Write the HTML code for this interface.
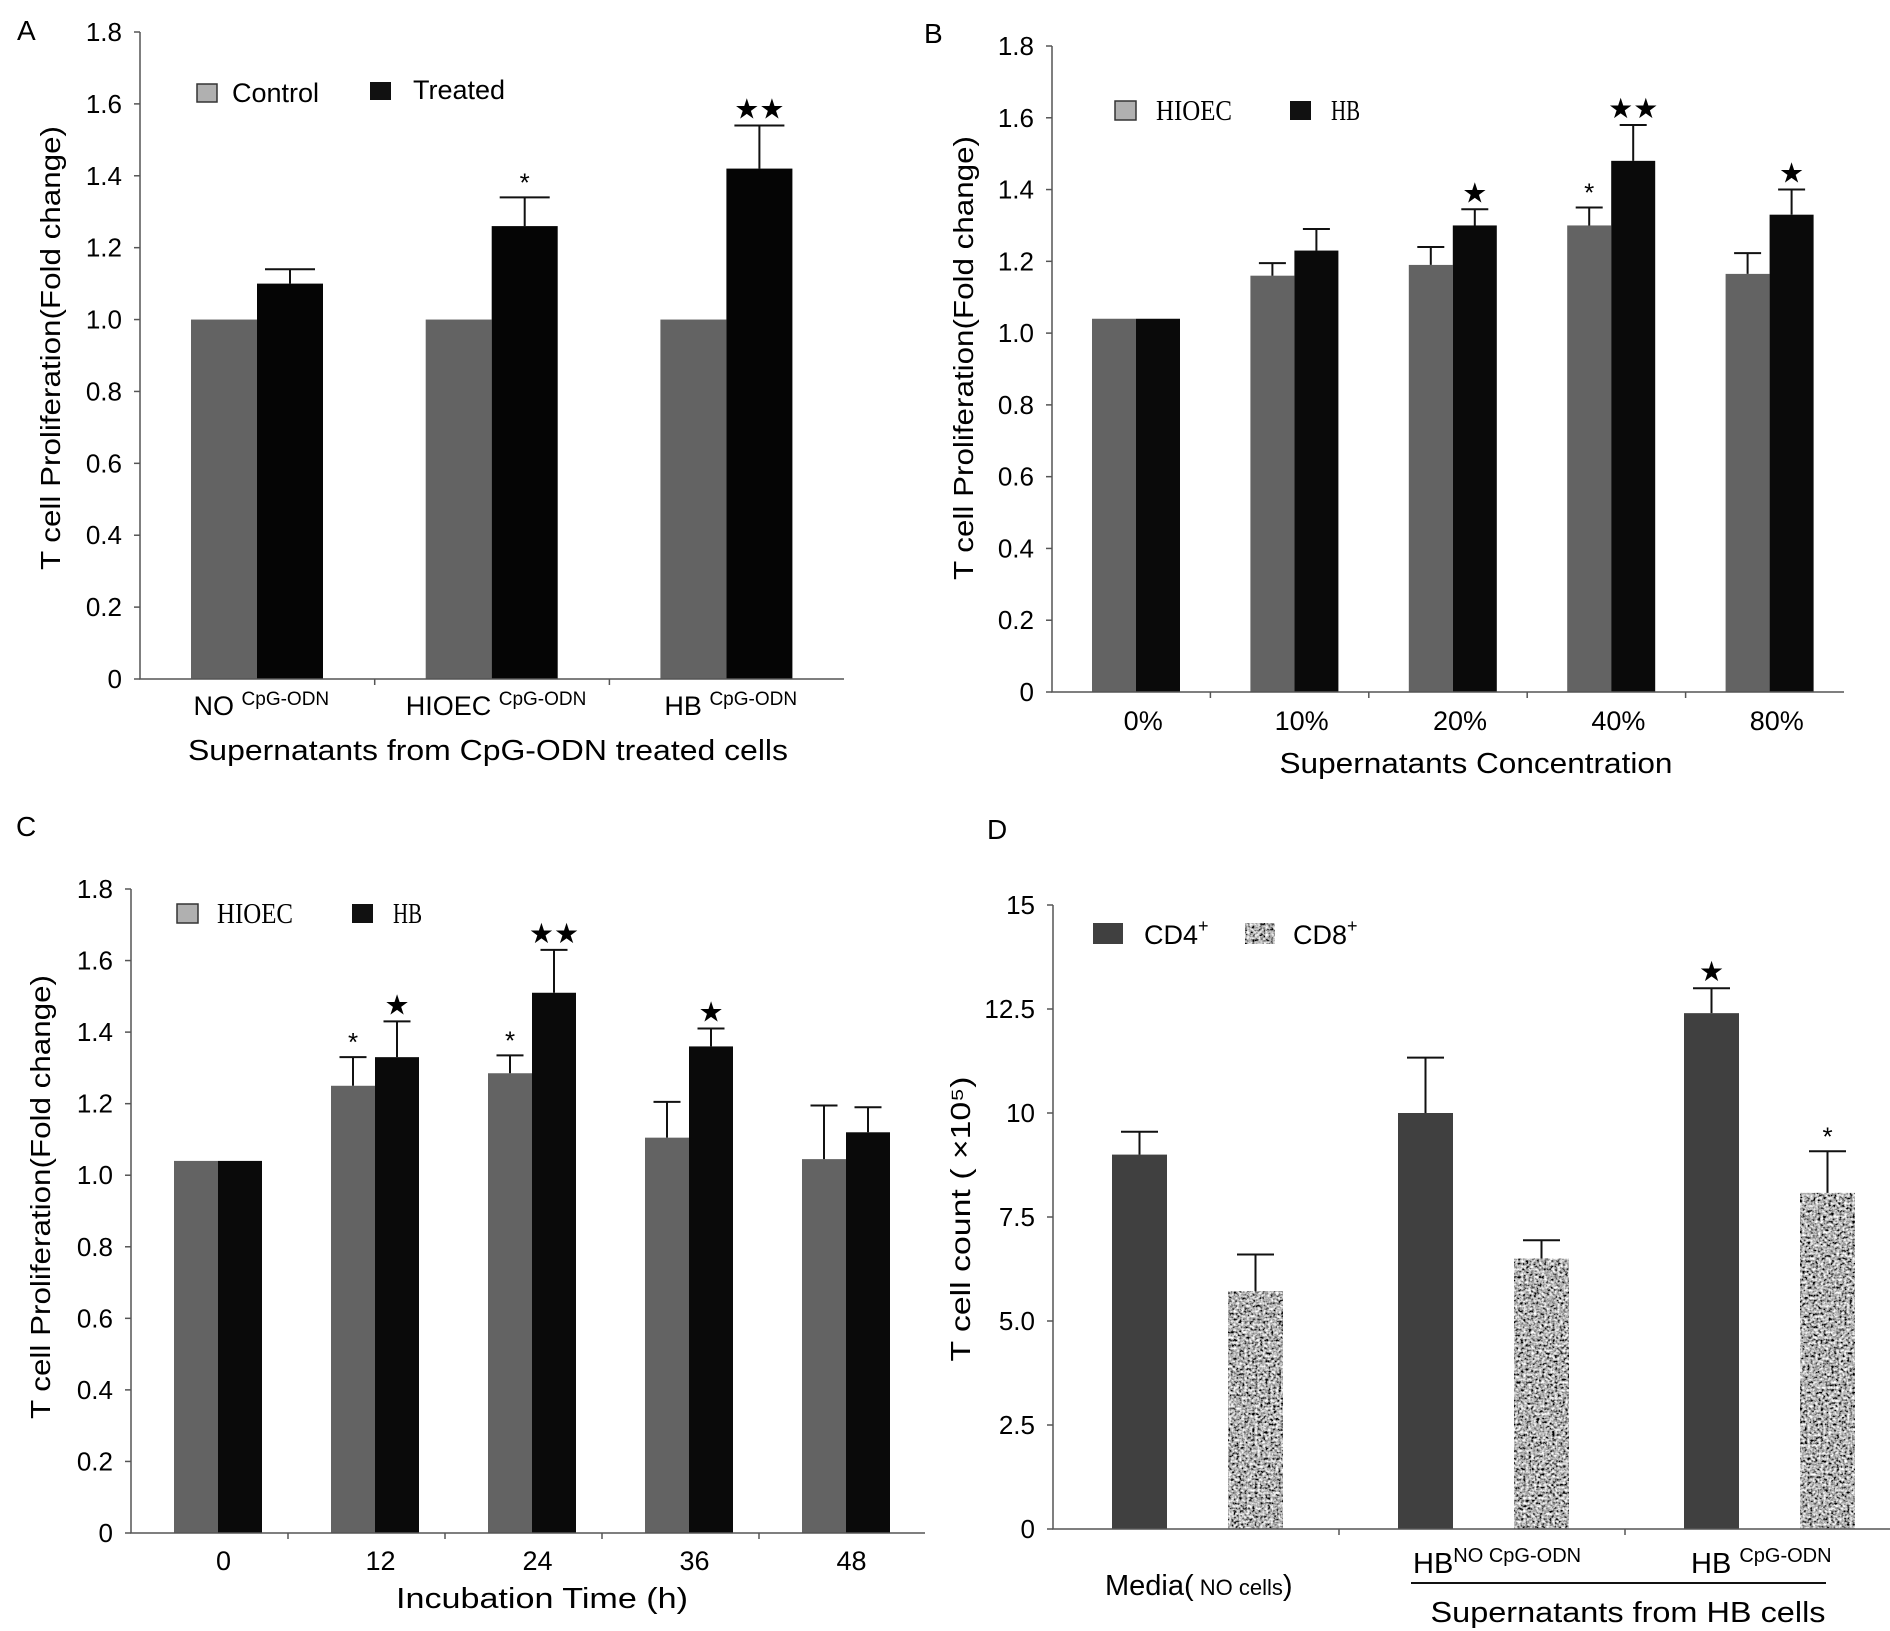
<!DOCTYPE html>
<html><head><meta charset="utf-8"><style>
html,body{margin:0;padding:0;background:#fff;}
svg{display:block;font-family:"Liberation Sans",sans-serif;}
</style></head><body>
<svg id="fig" width="1890" height="1631" viewBox="0 0 1890 1631" xmlns="http://www.w3.org/2000/svg">
<defs>
<filter id="speckle" x="0" y="0" width="100%" height="100%">
<feTurbulence type="fractalNoise" baseFrequency="0.38" numOctaves="2" seed="3" result="n"/>
<feColorMatrix in="n" type="saturate" values="0" result="g"/>
<feComponentTransfer in="g" result="c"><feFuncR type="linear" slope="2.8" intercept="-0.95"/><feFuncG type="linear" slope="2.8" intercept="-0.95"/><feFuncB type="linear" slope="2.8" intercept="-0.95"/><feFuncA type="linear" slope="0" intercept="1"/></feComponentTransfer>
<feComposite in="c" in2="SourceGraphic" operator="in"/>
</filter>
</defs>
<text x="17" y="40" font-size="28">A</text>
<text x="924" y="43" font-size="28">B</text>
<text x="16" y="836" font-size="28">C</text>
<text x="987" y="839" font-size="28">D</text>
</svg>
<script>
// Panel A data
const aCats = ["NO", "HIOEC", "HB"];
const aControl = [1.0, 1.0, 1.0];
const aTreated = [1.10, 1.26, 1.42];
const aTreatedErr = [0.04, 0.08, 0.12];
const aTicks = ["0","0.2","0.4","0.6","0.8","1.0","1.2","1.4","1.6","1.8"];
const aMarks = ["", "*", "★★"];
// Panel B data
const bCats = ["0%","10%","20%","40%","80%"];
const bHIOEC = [1.04, 1.16, 1.19, 1.30, 1.165];
const bHIOECErr = [0, 0.035, 0.05, 0.05, 0.058];
const bHB = [1.04, 1.23, 1.30, 1.48, 1.33];
const bHBErr = [0, 0.06, 0.045, 0.10, 0.07];
const bMarksH = ["", "", "", "*", ""];
const bMarksB = ["", "", "★", "★★", "★"];
// Panel C data
const cCats = ["0","12","24","36","48"];
const cHIOEC = [1.04, 1.25, 1.285, 1.105, 1.045];
const cHIOECErr = [0, 0.08, 0.05, 0.10, 0.15];
const cHB = [1.04, 1.33, 1.51, 1.36, 1.12];
const cHBErr = [0, 0.10, 0.12, 0.05, 0.07];
const cMarksH = ["", "*", "*", "", ""];
const cMarksB = ["", "★", "★★", "★", ""];
// Panel D data
const dCats = ["Media", "HB NO CpG-ODN", "HB CpG-ODN"];
const dCD4 = [9.0, 10.0, 12.4];
const dCD4Err = [0.55, 1.33, 0.6];
const dCD8 = [5.72, 6.5, 8.08];
const dCD8Err = [0.88, 0.44, 1.0];
const dTicks = ["0","2.5","5.0","7.5","10","12.5","15"];
const dMarks4 = ["", "", "★"];
const dMarks8 = ["", "", "*"];

const svg = document.getElementById('fig');
const NS = "http://www.w3.org/2000/svg";
function el(tag, attrs, parent){
  const e = document.createElementNS(NS, tag);
  for (const k in attrs) e.setAttribute(k, attrs[k]);
  (parent||svg).appendChild(e);
  return e;
}
function txt(x,y,s,size,anchor,extra){
  const t = el('text',{x:x,y:y,'font-size':size,'text-anchor':anchor||'start'});
  if(extra) for(const k in extra) t.setAttribute(k, extra[k]);
  t.textContent = s;
  return t;
}

function panel(P){
  const g = el('g',{});
  
  
  const y = v => P.y0 - v / P.max * (P.y0 - P.yTop);
  const catX = i => P.x0 + i * P.cw;
  P.series.forEach((s, si) => {
    s.vals.forEach((v, i) => {
      const bx = catX(i) + s.off;
      const r = el('rect',{x:bx,y:y(v),width:P.bw,height:P.y0 - y(v),fill:s.color},g);
      if (s.speckle) r.setAttribute('filter','url(#speckle)');
      
      
      const e = s.err ? s.err[i] : 0;
      const cx = bx + P.bw/2;
      if (e > 0) {
        const l = el('path',{d:`M${cx} ${y(v)}V${y(v+e)}M${cx-P.cap/2} ${y(v+e)}H${cx+P.cap/2}`,stroke:'#111','stroke-width':2,fill:'none'},g);
        
        
      }
      const m = s.marks ? s.marks[i] : "";
      if (m) {
        const isStar = m.indexOf('★') >= 0;
        const t = txt(cx, y(v+e) - (isStar?7:6), m, isStar?28:26, 'middle', isStar?{'font-family':'DejaVu Sans, sans-serif'}:{});
        g.appendChild(t);
        
        
      }
    });
  });
  const ax = el('path',{d:`M${P.x0} ${P.yTop}V${P.y0}H${P.xEnd}`,stroke:'#555','stroke-width':1.5,fill:'none'},g);
  
  
  P.ticks.forEach((lab, i) => {
    const v = P.tickStep * i;
    el('line',{x1:P.x0-6,x2:P.x0,y1:y(v),y2:y(v),stroke:'#555','stroke-width':1.5},g);
    const t = txt(P.x0 - 18, y(v) + 9, lab, 26, 'end');
    g.appendChild(t);
    
    
  });
  for (let i = 1; i < P.ncat; i++) {
    el('line',{x1:catX(i),x2:catX(i),y1:P.y0,y2:P.y0+6,stroke:'#555','stroke-width':1.5},g);
  }
  const yt = txt(0, 0, P.ytitle, 28, 'middle', {transform:`translate(${P.ytx},${P.yty}) rotate(-90)`, textLength:P.ytlen, lengthAdjust:'spacingAndGlyphs'});
  g.appendChild(yt);
  
  
  return {g, y, catX};
}

// Panel A
{
  const P = {name:'chart-a', x0:140, xEnd:844, y0:679, yTop:32, max:1.8, tickStep:0.2, ticks:aTicks, ncat:3, cw:234.7, bw:66, cap:50,
    ytitle:'T cell Proliferation(Fold change)', ytx:60, yty:348, ytlen:444,
    series:[{key:'control',vals:aControl,color:'#636363',off:51},
            {key:'treated',vals:aTreated,err:aTreatedErr,marks:aMarks,color:'#050505',off:117}]};
  const {g, catX} = panel(P);
  aCats.forEach((c,i)=>{
    const t = el('text',{x:catX(i)+P.cw/2+4,y:715,'font-size':27,'text-anchor':'middle'},g);
    
    
    t.textContent = c + ' ';
    const s = el('tspan',{'font-size':19,dy:-10},t); s.textContent = 'CpG-ODN';
  });
  const tt = txt(488, 760, 'Supernatants  from CpG-ODN treated cells', 29, 'middle', {textLength:600, lengthAdjust:'spacingAndGlyphs', 'xml:space':'preserve'});
  g.appendChild(tt);
   
  const l1 = el('rect',{x:197,y:84,width:20,height:18,fill:'#b0b0b0',stroke:'#333','stroke-width':1.5},g);
   
  const l1t = txt(232,102,'Control',27); g.appendChild(l1t);
   
  const l2 = el('rect',{x:370,y:82,width:21,height:18,fill:'#111'},g);
   
  const l2t = txt(413,99,'Treated',27); g.appendChild(l2t);
   
}

function serifLegend(g, x1, y1, x2, tx1, tx2, names){
  const a = el('rect',{x:x1,y:y1,width:21,height:19,fill:'#b0b0b0',stroke:'#333','stroke-width':1.5},g);
   
  const at = txt(tx1,y1+19,names[0],28,'start',{'font-family':'Liberation Serif, serif',textLength:76,lengthAdjust:'spacingAndGlyphs'}); g.appendChild(at);
   
  const b = el('rect',{x:x2,y:y1,width:21,height:19,fill:'#111'},g);
   
  const bt = txt(tx2,y1+19,names[1],28,'start',{'font-family':'Liberation Serif, serif',textLength:29,lengthAdjust:'spacingAndGlyphs'}); g.appendChild(bt);
   
}

// Panel B
{
  const P = {name:'chart-b', x0:1052, xEnd:1844, y0:692, yTop:46, max:1.8, tickStep:0.2, ticks:aTicks, ncat:5, cw:158.4, bw:44, cap:27,
    ytitle:'T cell Proliferation(Fold change)', ytx:973, yty:358, ytlen:444,
    series:[{key:'hioec',vals:bHIOEC,err:bHIOECErr,marks:bMarksH,color:'#636363',off:40},
            {key:'hb',vals:bHB,err:bHBErr,marks:bMarksB,color:'#0a0a0a',off:84}]};
  const {g, catX} = panel(P);
  bCats.forEach((c,i)=>{
    const t = txt(catX(i)+P.cw/2+12, 730, c, 27, 'middle'); g.appendChild(t);
     
  });
  const tt = txt(1476, 773, 'Supernatants Concentration', 29, 'middle', {textLength:393, lengthAdjust:'spacingAndGlyphs'});
  g.appendChild(tt);
   
  serifLegend(g, 1115, 101, 1290, 1156, 1331, ['HIOEC','HB']);
}

// Panel C
{
  const P = {name:'chart-c', x0:131, xEnd:925, y0:1533, yTop:889, max:1.8, tickStep:0.2, ticks:aTicks, ncat:5, cw:157, bw:44, cap:27,
    ytitle:'T cell Proliferation(Fold change)', ytx:50, yty:1197, ytlen:444,
    series:[{key:'hioec',vals:cHIOEC,err:cHIOECErr,marks:cMarksH,color:'#636363',off:43},
            {key:'hb',vals:cHB,err:cHBErr,marks:cMarksB,color:'#0a0a0a',off:87}]};
  const {g, catX} = panel(P);
  cCats.forEach((c,i)=>{
    const t = txt(catX(i)+P.cw/2+14, 1570, c, 27, 'middle'); g.appendChild(t);
     
  });
  const tt = txt(542, 1608, 'Incubation   Time (h)', 29, 'middle', {textLength:292, lengthAdjust:'spacingAndGlyphs', 'xml:space':'preserve'});
  g.appendChild(tt);
   
  serifLegend(g, 177, 904, 352, 217, 393, ['HIOEC','HB']);
}

// Panel D
{
  const P = {name:'chart-d', x0:1053, xEnd:1890, y0:1529, yTop:905, max:15, tickStep:2.5, ticks:dTicks, ncat:3, cw:286, bw:55, cap:37,
    ytitle:'T cell count ( ×10⁵)', ytx:970, yty:1219, ytlen:285,
    series:[{key:'cd4',vals:dCD4,err:dCD4Err,marks:dMarks4,color:'#404040',off:59},
            {key:'cd8',vals:dCD8,err:dCD8Err,marks:dMarks8,color:'#909090',off:175,speckle:true}]};
  const {g} = panel(P);
  const m = el('text',{x:1105,y:1595,'font-size':29},g);
   
  m.textContent = 'Media(';
  const ms = el('tspan',{'font-size':22},m); ms.textContent = ' NO cells';
  const ms2 = el('tspan',{},m); ms2.textContent = ')';
  const h1 = el('text',{x:1413,y:1573,'font-size':29},g);
   
  h1.textContent = 'HB';
  const h1s = el('tspan',{'font-size':20,dy:-11},h1); h1s.textContent = 'NO CpG-ODN';
  const h2 = el('text',{x:1691,y:1573,'font-size':29},g);
   
  h2.textContent = 'HB ';
  const h2s = el('tspan',{'font-size':20,dy:-11},h2); h2s.textContent = 'CpG-ODN';
  const br = el('line',{x1:1411,x2:1826,y1:1583,y2:1583,stroke:'#111','stroke-width':2},g);
   
  const tt = txt(1628, 1622, 'Supernatants  from  HB cells', 29, 'middle', {textLength:395, lengthAdjust:'spacingAndGlyphs', 'xml:space':'preserve'});
  g.appendChild(tt);
   
  const a = el('rect',{x:1093,y:923,width:30,height:21,fill:'#404040'},g);
   
  const at = el('text',{x:1144,y:944,'font-size':27},g); at.textContent='CD4';
  const ats = el('tspan',{'font-size':18,dy:-12},at); ats.textContent='+';
   
  const b = el('rect',{x:1245,y:923,width:30,height:21,fill:'#909090',filter:'url(#speckle)'},g);
   
  const bt = el('text',{x:1293,y:944,'font-size':27},g); bt.textContent='CD8';
  const bts = el('tspan',{'font-size':18,dy:-12},bt); bts.textContent='+';
   
}
</script>
</body></html>
